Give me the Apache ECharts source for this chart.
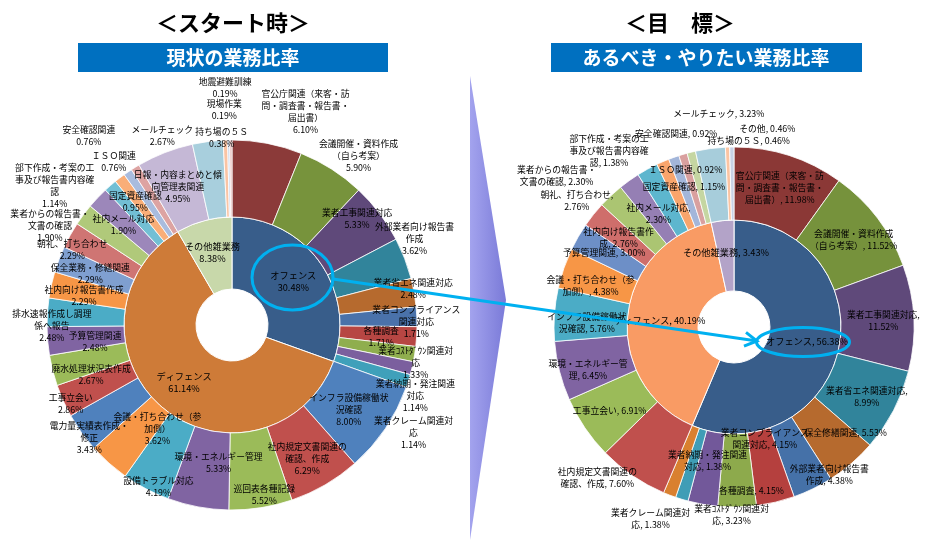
<!DOCTYPE html>
<html><head><meta charset="utf-8">
<script src="https://cdn.jsdelivr.net/npm/echarts@6/dist/echarts.min.js"></script>
<style>html,body{margin:0;padding:0;background:#fff}#c{width:932px;height:544px}</style>
</head><body><div id="c"></div>
<script>
// ---------- DATA : スタート時 (left) ----------
const leftInnerNames = ['オフェンス', 'ディフェンス', 'その他雑業務'];
const leftInnerValues = [30.48, 61.14, 8.38];
const leftOuterNames = [
  '官公庁関連（来客・訪\n問・調査書・報告書・\n届出書）', '会議開催・資料作成\n（自ら考案）', '業者工事関連対応',
  '外部業者向け報告書\n作成', '業者省エネ関連対応', '業者コンプライアンス\n関連対応', '各種調査',
  '業者ｺｽﾄﾀﾞｳﾝ関連対\n応', '業者納期・発注関連\n対応', '業者クレーム関連対\n応',
  'インフラ設備稼働状\n況確認', '社内規定文書関連の\n確認、作成', '巡回表各種記録', '環境・エネルギー管理',
  '設備トラブル対応', '会議・打ち合わせ（参\n加側）', '電力量実績表作成・\n修正', '工事立会い',
  '廃水処理状況表作成', '予算管理関連', '排水速報作成し調理\n係へ報告', '社内向け報告書作成',
  '保全業務・修繕関連', '朝礼、打ち合わせ', '業者からの報告書・\n文書の確認', '社内メール対応',
  '部下作成・考案の工\n事及び報告書内容確\n認', '固定資産確認', 'ＩＳＯ関連', '安全確認関連',
  '日報・内容まとめと傾\n向管理表関連', 'メールチェック', '持ち場の５Ｓ', '現場作業', '地震避難訓練'
];
const leftOuterValues = [
  6.10, 5.90, 5.33, 3.62, 2.48, 1.71, 1.71, 1.33, 1.14, 1.14,
  8.00, 6.29, 5.52, 5.33, 4.19, 3.62, 3.43, 2.86, 2.67, 2.48, 2.48, 2.29, 2.29, 2.29, 1.90, 1.90, 1.14, 0.95, 0.76, 0.76,
  4.95, 2.67, 0.38, 0.19, 0.19
];

// ---------- DATA : 目標 (right) ----------
const rightInnerNames = ['オフェンス', 'ディフェンス', 'その他雑業務'];
const rightInnerValues = [56.38, 40.19, 3.43];
const rightOuterNames = [
  '官公庁関連（来客・訪\n問・調査書・報告書・\n届出書）', '会議開催・資料作成\n（自ら考案）', '業者工事関連対応',
  '業者省エネ関連対応', '保全修繕関連', '外部業者向け報告書\n作成', '業者コンプライアンス\n関連対応', '各種調査',
  '業者ｺｽﾄﾀﾞｳﾝ関連対\n応', '業者納期・発注関連\n対応', '業者クレーム関連対\n応',
  '社内規定文書関連の\n確認、作成', '工事立会い', '環境・エネルギー管\n理', 'インフラ設備稼働状\n況確認',
  '会議・打ち合わせ（参\n加側）', '予算管理関連', '社内向け報告書作\n成', '朝礼、打ち合わせ',
  '業者からの報告書・\n文書の確認', '社内メール対応', '部下作成・考案の工\n事及び報告書内容確\n認',
  '固定資産確認', 'ＩＳＯ関連', '安全確認関連', 'メールチェック', '持ち場の５Ｓ', 'その他'
];
const rightOuterValues = [
  11.98, 11.52, 11.52, 8.99, 5.53, 4.38, 4.15, 4.15, 3.23, 1.38, 1.38,
  7.60, 6.91, 6.45, 5.76, 4.38, 3.00, 2.76, 2.76, 2.30, 2.30, 1.38, 1.15, 0.92, 0.92,
  3.23, 0.46, 0.46
];
// labels on the right whose value goes on its own line
const rightBreakAfterComma = ['業者工事関連対応', '業者省エネ関連対応', '朝礼、打ち合わせ', '社内メール対応'];

// ---------- STYLE ----------
const leftInnerColors = ['#385D8A', '#CE7B38', '#C8D8AA'];
const leftOuterColors = [
  '#8B3A39', '#77933C', '#5F497A', '#31849B', '#B66A2E', '#4A72AA', '#B74643', '#8FAE4E', '#7B5F9E', '#3FA0BA',
  '#4F81BD', '#C0504D', '#9BBB59', '#8064A2', '#4BACC6', '#F79646', '#4F81BD', '#C0504D', '#9BBB59', '#8064A2',
  '#4BACC6', '#F79646', '#7F9FD0', '#CF7573', '#B0C97A', '#9C87BA', '#72BFD4', '#F9AE78', '#A9BCDE', '#DDA3A2',
  '#C5B8D6', '#A8CFDD', '#FAC4A4', '#C9D5EA', '#E6B9B8'
];
const rightInnerColors = ['#385D8A', '#F99B64', '#B3A3C8'];
const rightOuterColors = [
  '#8B3836', '#76923C', '#5F497A', '#31849B', '#B66A2E', '#4571A8', '#B5403E', '#8DAA4C', '#72589A', '#3F9DB6', '#D9802F',
  '#C0504D', '#9BBB59', '#8064A2', '#4BACC6', '#F79646', '#6D8FC7', '#CF6E6B', '#ABC572', '#957FB4', '#5DB6CE',
  '#F9A56C', '#A3B6DA', '#D9A09F', '#C5D6A2', '#A7CDDB', '#FBC4A2', '#C8D2E6'
];
// label nudges (dx, dy) from the slice's mid-ring position
const leftOuterShift = [
  [45,-67],[46,-43],[6,-16],[43,-33],[34,-10],[35,3],[0,2],[36,14],[38,36],[39,62],
  [-7,1],[0,4],[9,22],[14,-9],[-4,29],[25,-8],[-21,26],[-25,17],[4,13],[12,4],
  [-31,11],[-2,3],[-2,2],[-29,-3],[-62,-10],[0,2],[-79,-27],[-6,-5],[-34,-40],[-65,-62],
  [0,1],[-50,-41],[-5,-38],[-5,-66],[-6,-88]
];
const rightOuterShift = [
  [1,0],[3,1],[3,1],[3,2],[16,-5],[31,16],[-3,-31],[15,17],[23,43],[16,-7],[-31,55],
  [-54,30],[-3,2],[-4,7],[-1,6],[-5,7],[-3,-1],[-1,2],[-57,-19],[-92,-32],[-5,15],
  [-67,-42],[-1,-2],[-7,-17],[-23,-51],[4,-68],[20,-40],[35,-52]
];

const FONT = '"Noto Sans CJK JP", "Noto Sans CJK SC", sans-serif';
const labelBase = { show: true, position: 'inside', color: '#000', fontFamily: FONT, fontSize: 8.8, lineHeight: 12 };
const fmt2 = v => Number(v).toFixed(2) + '%';

function mk(names, values, colors) {
  return names.map((n, i) => ({ name: n, value: values[i], itemStyle: { color: colors[i] } }));
}

const leftC = [232, 325], rightC = [734, 327];

const series = [
  {
    type: 'pie', center: leftC, radius: [36, 108], startAngle: 90, clockwise: true, silent: true,
    data: mk(leftInnerNames, leftInnerValues, leftInnerColors),
    itemStyle: { borderColor: '#fff', borderWidth: 1 },
    label: Object.assign({}, labelBase, { fontSize: 9.2, formatter: p => p.name + '\n' + fmt2(p.value) }),
    labelLine: { show: false }
  },
  {
    type: 'pie', center: leftC, radius: [108, 185], startAngle: 90, clockwise: true, silent: true,
    data: mk(leftOuterNames, leftOuterValues, leftOuterColors),
    itemStyle: { borderColor: '#fff', borderWidth: 0.8 },
    label: Object.assign({}, labelBase, { formatter: p => p.name + '\n' + fmt2(p.value) }),
    labelLine: { show: false },
    labelLayout: p => ({ dx: leftOuterShift[p.dataIndex][0], dy: leftOuterShift[p.dataIndex][1] })
  },
  {
    type: 'pie', center: rightC, radius: [36, 107], startAngle: 90, clockwise: true, silent: true,
    data: mk(rightInnerNames, rightInnerValues, rightInnerColors),
    itemStyle: { borderColor: '#fff', borderWidth: 1 },
    label: Object.assign({}, labelBase, { fontSize: 9.2, formatter: p => p.name + ', ' + fmt2(p.value) }),
    labelLine: { show: false }
  },
  {
    type: 'pie', center: rightC, radius: [107, 180], startAngle: 90, clockwise: true, silent: true,
    data: mk(rightOuterNames, rightOuterValues, rightOuterColors),
    itemStyle: { borderColor: '#fff', borderWidth: 0.8 },
    label: Object.assign({}, labelBase, {
      formatter: p => p.name + (rightBreakAfterComma.includes(p.name) ? ',\n' : ', ') + fmt2(p.value)
    }),
    labelLine: { show: false },
    labelLayout: p => ({ dx: rightOuterShift[p.dataIndex][0], dy: rightOuterShift[p.dataIndex][1] })
  }
];

// arrow from left オフェンス to right オフェンス
const a0 = [333, 279], a1 = [757, 341];
const ang = Math.atan2(a1[1] - a0[1], a1[0] - a0[0]);
const hl = 14, ha = Math.PI / 6;
const wing1 = [a1[0] - hl * Math.cos(ang - ha), a1[1] - hl * Math.sin(ang - ha)];
const wing2 = [a1[0] - hl * Math.cos(ang + ha), a1[1] - hl * Math.sin(ang + ha)];

const titleFont = 'bold 22px ' + FONT;
const boxFont = 'bold 19px ' + FONT;

const graphic = [
  { type: 'polygon', z: 0, shape: { points: [[470, 76], [506, 300], [470, 540]] },
    style: { fill: { type: 'linear', x: 0, y: 0, x2: 1, y2: 0,
      colorStops: [{ offset: 0, color: '#A3A3EE' }, { offset: 1, color: '#7A7AD8' }] } } },
  { type: 'text', z: 10, x: 233, y: 23, style: { text: '＜スタート時＞', font: titleFont, fill: '#000', align: 'center', verticalAlign: 'middle', textAlign: 'center', textVerticalAlign: 'middle' } },
  { type: 'text', z: 10, x: 680, y: 23, style: { text: '＜目　標＞', font: titleFont, fill: '#000', align: 'center', verticalAlign: 'middle', textAlign: 'center', textVerticalAlign: 'middle' } },
  { type: 'rect', z: 10, shape: { x: 78, y: 43, width: 310, height: 29 }, style: { fill: '#0070C0' } },
  { type: 'rect', z: 10, shape: { x: 551, y: 43, width: 311, height: 29 }, style: { fill: '#0070C0' } },
  { type: 'text', z: 11, x: 233, y: 58, style: { text: '現状の業務比率', font: boxFont, fill: '#fff', align: 'center', verticalAlign: 'middle', textAlign: 'center', textVerticalAlign: 'middle' } },
  { type: 'text', z: 11, x: 706, y: 58, style: { text: 'あるべき・やりたい業務比率', font: boxFont, fill: '#fff', align: 'center', verticalAlign: 'middle', textAlign: 'center', textVerticalAlign: 'middle' } },
  { type: 'ellipse', z: 100, shape: { cx: 292.5, cy: 277.5, rx: 40.5, ry: 32.5 }, style: { fill: 'none', stroke: '#00B0F0', lineWidth: 3 } },
  { type: 'ellipse', z: 100, shape: { cx: 803, cy: 342, rx: 46.5, ry: 14.5 }, style: { fill: 'none', stroke: '#00B0F0', lineWidth: 3 } },
  { type: 'line', z: 100, shape: { x1: a0[0], y1: a0[1], x2: a1[0], y2: a1[1] }, style: { stroke: '#00B0F0', lineWidth: 3 } },
  { type: 'polyline', z: 100, shape: { points: [wing1, a1, wing2] }, style: { fill: 'none', stroke: '#00B0F0', lineWidth: 3 } }
];

const chart = echarts.init(document.getElementById('c'), null, { renderer: 'canvas' });
chart.setOption({ animation: false, backgroundColor: '#fff', series: series, graphic: graphic });
</script></body></html>
